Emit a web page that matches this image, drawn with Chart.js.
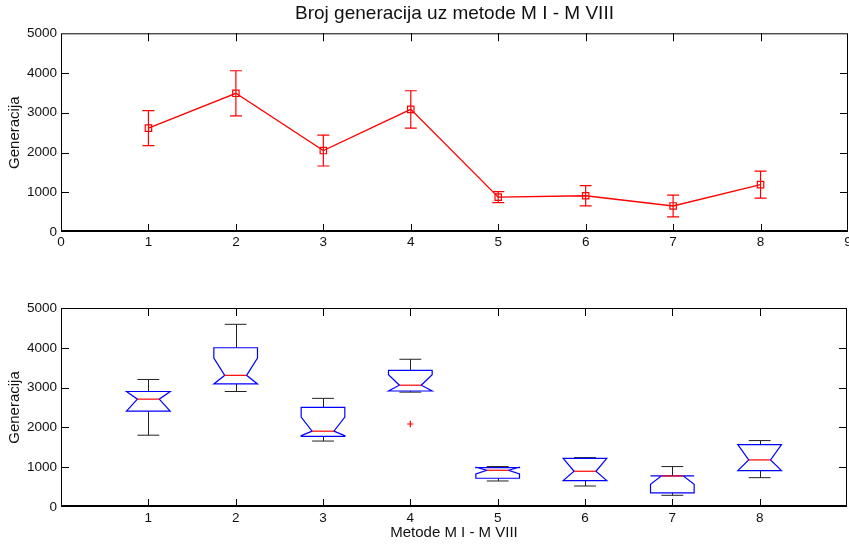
<!DOCTYPE html>
<html>
<head>
<meta charset="utf-8">
<script src="https://cdn.jsdelivr.net/npm/chart.js@4.4.1/dist/chart.umd.min.js"></script>
<style>
  html, body { margin: 0; padding: 0; background: #fff; }
  #wrap { position: relative; width: 849px; height: 544px; }
  .box { position: absolute; left: 0; width: 849px; }
</style>
</head>
<body>
<div id="wrap">
  <div class="box" style="top:0;height:262px"><canvas id="grafGornji"></canvas></div>
  <div class="box" style="top:262px;height:282px"><canvas id="grafDonji"></canvas></div>
</div>
<script>
// podaci
const metode = [1, 2, 3, 4, 5, 6, 7, 8];
const srednjaVrijednost = [2614, 3490, 2049, 3085, 878, 912, 655, 1192];
const greska = [442, 568, 388, 469, 138, 255, 275, 342];

// boxplot (notch)
const gornjiBrk = [3204, 4590, 2730, 3712, 1016, 1241, 1016, 1669];
const q3 = [2902, 4001, 2505, 3435, 989, 1224, 780, 1568];
const zarezGore = [2902, 3741, 2260, 3322, 1000, 1224, 780, 1568];
const medijan = [2710, 3308, 1905, 3060, 923, 898, 780, 1183];
const zarezDolje = [2408, 3092, 1794, 2915, 830, 662, 570, 913];
const q1 = [2408, 3092, 1774, 2915, 722, 662, 355, 913];
const donjiBrk = [1804, 2902, 1657, 2886, 654, 528, 294, 737];
const izuzetakX = [4];
const izuzetakY = [2085];

const yTicks = [0, 1000, 2000, 3000, 4000, 5000];

Chart.defaults.font.family = "'Liberation Sans', Arial, sans-serif";
Chart.defaults.color = '#111';

// okvir + unutarnje crtice (matlab stil)
const okvirPlugin = {
    id: 'okvir',
    afterDraw(chart) {
        const {ctx, chartArea: a, scales: {x, y}} = chart;
        const duz = 8;
        ctx.save();
        ctx.strokeStyle = '#000';
        ctx.lineWidth = 1;
        ctx.strokeRect(a.left + 0.5, a.top + 0.5, a.right - a.left - 1, a.bottom - a.top - 1);
        ctx.beginPath();
        x.ticks.forEach(t => {
            const px = Math.round(x.getPixelForValue(t.value)) + 0.5;
            if (px <= a.left + 2 || px >= a.right - 2) return;
            ctx.moveTo(px, a.bottom); ctx.lineTo(px, a.bottom - duz);
            ctx.moveTo(px, a.top); ctx.lineTo(px, a.top + duz);
        });
        y.ticks.forEach(t => {
            const py = Math.round(y.getPixelForValue(t.value)) + 0.5;
            if (py <= a.top + 2 || py >= a.bottom - 2) return;
            ctx.moveTo(a.left, py); ctx.lineTo(a.left + duz, py);
            ctx.moveTo(a.right, py); ctx.lineTo(a.right - duz, py);
        });
        ctx.stroke();
        // donja os malo deblja
        ctx.lineWidth = 2;
        ctx.beginPath();
        ctx.moveTo(a.left, a.bottom - 1); ctx.lineTo(a.right, a.bottom - 1);
        ctx.stroke();
        ctx.restore();
    }
};

// error bar + kvadratici
const greskePlugin = {
    id: 'greske',
    afterDatasetsDraw(chart) {
        const {ctx, scales: {x, y}} = chart;
        const kapa = 6, kv = 3.2;
        ctx.save();
        ctx.strokeStyle = '#ff0000';
        ctx.lineWidth = 1.2;
        ctx.beginPath();
        metode.forEach((m, i) => {
            const px = x.getPixelForValue(m);
            const py = y.getPixelForValue(srednjaVrijednost[i]);
            const gore = y.getPixelForValue(srednjaVrijednost[i] + greska[i]);
            const dolje = y.getPixelForValue(srednjaVrijednost[i] - greska[i]);
            ctx.moveTo(px, gore); ctx.lineTo(px, dolje);
            ctx.moveTo(px - kapa, gore); ctx.lineTo(px + kapa, gore);
            ctx.moveTo(px - kapa, dolje); ctx.lineTo(px + kapa, dolje);
            ctx.rect(px - kv, py - kv, 2 * kv, 2 * kv);
        });
        ctx.stroke();
        ctx.restore();
    }
};

const kutijePlugin = {
    id: 'kutije',
    afterDatasetsDraw(chart) {
        const {ctx, scales: {x, y}} = chart;
        const pola = 0.25, zarez = 0.125, kapa = 0.125;
        ctx.save();
        metode.forEach((m, i) => {
            const xc = Math.round(x.getPixelForValue(m)) + 0.5;
            const xl = x.getPixelForValue(m - pola), xr = x.getPixelForValue(m + pola);
            const nl = x.getPixelForValue(m - zarez), nr = x.getPixelForValue(m + zarez);
            const kl = x.getPixelForValue(m - kapa), kr = x.getPixelForValue(m + kapa);

            // brkovi
            ctx.strokeStyle = '#222';
            ctx.lineWidth = 1;
            ctx.beginPath();
            ctx.moveTo(xc, y.getPixelForValue(gornjiBrk[i])); ctx.lineTo(xc, y.getPixelForValue(q3[i]));
            ctx.moveTo(xc, y.getPixelForValue(q1[i])); ctx.lineTo(xc, y.getPixelForValue(donjiBrk[i]));
            ctx.moveTo(kl, y.getPixelForValue(gornjiBrk[i])); ctx.lineTo(kr, y.getPixelForValue(gornjiBrk[i]));
            ctx.moveTo(kl, y.getPixelForValue(donjiBrk[i])); ctx.lineTo(kr, y.getPixelForValue(donjiBrk[i]));
            ctx.stroke();

            // kutija sa zarezom
            ctx.strokeStyle = '#0000ff';
            ctx.lineWidth = 1.2;
            ctx.beginPath();
            ctx.moveTo(xl, y.getPixelForValue(q3[i]));
            ctx.lineTo(xl, y.getPixelForValue(zarezGore[i]));
            ctx.lineTo(nl, y.getPixelForValue(medijan[i]));
            ctx.lineTo(xl, y.getPixelForValue(zarezDolje[i]));
            ctx.lineTo(xl, y.getPixelForValue(q1[i]));
            ctx.lineTo(xr, y.getPixelForValue(q1[i]));
            ctx.lineTo(xr, y.getPixelForValue(zarezDolje[i]));
            ctx.lineTo(nr, y.getPixelForValue(medijan[i]));
            ctx.lineTo(xr, y.getPixelForValue(zarezGore[i]));
            ctx.lineTo(xr, y.getPixelForValue(q3[i]));
            ctx.closePath();
            ctx.stroke();

            // medijan
            ctx.strokeStyle = '#ff0000';
            ctx.lineWidth = 1.2;
            ctx.beginPath();
            ctx.moveTo(nl, y.getPixelForValue(medijan[i]));
            ctx.lineTo(nr, y.getPixelForValue(medijan[i]));
            ctx.stroke();
        });

        // izuzeci (+)
        const r = 3.2;
        ctx.strokeStyle = '#ff0000';
        ctx.lineWidth = 1.2;
        ctx.beginPath();
        izuzetakX.forEach((v, i) => {
            const px = x.getPixelForValue(v), py = y.getPixelForValue(izuzetakY[i]);
            ctx.moveTo(px - r, py); ctx.lineTo(px + r, py);
            ctx.moveTo(px, py - r); ctx.lineTo(px, py + r);
        });
        ctx.stroke();
        ctx.restore();
    }
};

const tickFont = { size: 13.5 };

function bezPaddinga(s) {
    s.paddingLeft = 0; s.paddingRight = 0; s.paddingTop = 0; s.paddingBottom = 0;
}

function yOsa() {
    return {
        min: 0, max: 5000,
        afterBuildTicks: s => { s.ticks = yTicks.map(v => ({ value: v })); },
        afterFit: s => { s.width = 61; bezPaddinga(s); },
        grid: { display: false, drawTicks: false },
        border: { display: false },
        ticks: { font: tickFont, padding: 4, color: '#111', callback: v => String(v) },
        title: { display: true, text: 'Generacija', font: { size: 15 }, padding: { top: 6, bottom: 0 }, color: '#111' }
    };
}

// gornji graf - srednja vrijednost i greska
new Chart(document.getElementById('grafGornji'), {
    type: 'line',
    data: {
        datasets: [{
            data: metode.map((m, i) => ({ x: m, y: srednjaVrijednost[i] })),
            borderColor: '#ff0000',
            borderWidth: 1.3,
            pointRadius: 0,
            tension: 0
        }]
    },
    options: {
        responsive: true,
        maintainAspectRatio: false,
        animation: false,
        layout: { autoPadding: false, padding: { top: 0, right: 1, left: 0, bottom: 0 } },
        plugins: {
            legend: { display: false },
            tooltip: { enabled: false },
            title: {
                display: true,
                text: 'Broj generacija uz metode M I - M VIII',
                fullSize: false,
                font: { size: 19, weight: 'normal' },
                color: '#111',
                padding: { top: 2.5, bottom: 8 }
            }
        },
        scales: {
            x: {
                type: 'linear', min: 0, max: 9,
                ticks: { stepSize: 1, font: tickFont, padding: 2, color: '#111', maxRotation: 0 },
                afterFit: s => { s.height = 30; bezPaddinga(s); },
                grid: { display: false, drawTicks: false },
                border: { display: false }
            },
            y: yOsa()
        }
    },
    plugins: [greskePlugin, okvirPlugin]
});

// donji graf - boxplot
new Chart(document.getElementById('grafDonji'), {
    type: 'scatter',
    data: { datasets: [] },
    options: {
        responsive: true,
        maintainAspectRatio: false,
        animation: false,
        layout: { autoPadding: false, padding: { top: 46, right: 2, left: 0, bottom: 0 } },
        plugins: {
            legend: { display: false },
            tooltip: { enabled: false }
        },
        scales: {
            x: {
                type: 'linear', min: 0, max: 9,
                ticks: {
                    stepSize: 1, font: tickFont, padding: 3, color: '#111', maxRotation: 0,
                    callback: v => (v >= 1 && v <= 8) ? String(v) : ''
                },
                afterFit: s => { s.height = 37; bezPaddinga(s); },
                grid: { display: false, drawTicks: false },
                border: { display: false },
                title: { display: true, text: 'Metode M I - M VIII', font: { size: 15 }, color: '#111', padding: { top: 0, bottom: 2 } }
            },
            y: yOsa()
        }
    },
    plugins: [kutijePlugin, okvirPlugin]
});
</script>
</body>
</html>
